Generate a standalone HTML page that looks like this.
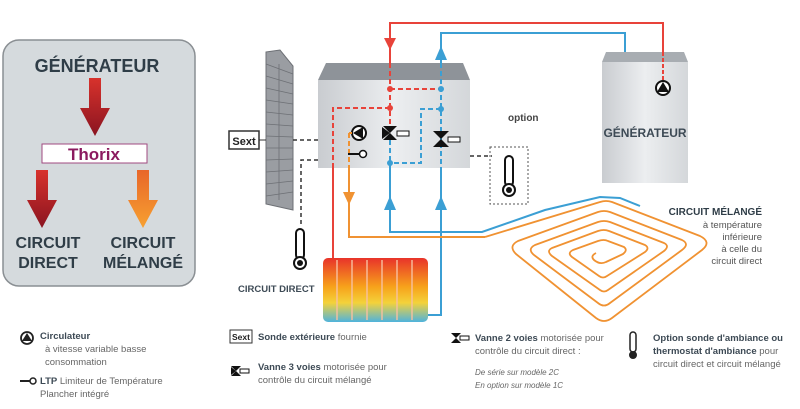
<!DOCTYPE html>
<html><head><meta charset="utf-8"><style>
html,body{margin:0;padding:0;background:#fff;width:800px;height:409px;overflow:hidden}
svg{display:block;font-family:"Liberation Sans",sans-serif}
</style></head><body>
<svg width="800" height="409" viewBox="0 0 800 409" xmlns="http://www.w3.org/2000/svg">
<defs>
<linearGradient id="ra" x1="0" y1="0" x2="0" y2="1"><stop offset="0" stop-color="#e8332a"/><stop offset="0.45" stop-color="#f7a21b"/><stop offset="0.7" stop-color="#f4d23a"/><stop offset="1" stop-color="#4fb3dc"/></linearGradient>
<linearGradient id="gb" x1="0" y1="0" x2="1" y2="0"><stop offset="0" stop-color="#c9ccd0"/><stop offset="0.5" stop-color="#eceef0"/><stop offset="1" stop-color="#d4d7da"/></linearGradient>
<linearGradient id="ar" x1="0" y1="0" x2="0" y2="1"><stop offset="0" stop-color="#d8322c"/><stop offset="1" stop-color="#8a1420"/></linearGradient>
<linearGradient id="ao" x1="0" y1="0" x2="0" y2="1"><stop offset="0" stop-color="#e8662a"/><stop offset="1" stop-color="#f7a030"/></linearGradient>
</defs>
<!-- left panel -->
<rect x="3" y="40" width="192" height="246" rx="16" fill="#d5dadd" stroke="#8a8f93" stroke-width="1.5"/>
<text x="97" y="72" font-size="18" font-weight="bold" fill="#2f3d47" text-anchor="middle">GÉNÉRATEUR</text>
<polygon points="89,78 101,78 101,108 110,108 95,136 80,108 89,108" fill="url(#ar)"/>
<rect x="42" y="144" width="105" height="19" fill="#fff" stroke="#a04a80"/>
<text x="94" y="160" font-size="17" font-weight="bold" fill="#8b1a5f" text-anchor="middle">Thorix</text>
<polygon points="36,170 48,170 48,200 57,200 42,228 27,200 36,200" fill="url(#ar)"/>
<polygon points="137,170 149,170 149,200 158,200 143,228 128,200 137,200" fill="url(#ao)"/>
<text x="48" y="248" font-size="16" font-weight="bold" fill="#2f3d47" text-anchor="middle">CIRCUIT</text>
<text x="48" y="268" font-size="16" font-weight="bold" fill="#2f3d47" text-anchor="middle">DIRECT</text>
<text x="143" y="248" font-size="16" font-weight="bold" fill="#2f3d47" text-anchor="middle">CIRCUIT</text>
<text x="143" y="268" font-size="16" font-weight="bold" fill="#2f3d47" text-anchor="middle">MÉLANGÉ</text>

<!-- wall -->
<polygon points="266,52 280,50 293,66 293,210 266,204" fill="#9a9da2" stroke="#6d7075"/>
<g stroke="#6d7075" stroke-width="0.8">
<line x1="266" y1="64" x2="293" y2="74"/><line x1="266" y1="76" x2="293" y2="84"/><line x1="266" y1="88" x2="293" y2="94"/><line x1="266" y1="100" x2="293" y2="104"/><line x1="266" y1="112" x2="293" y2="115"/><line x1="266" y1="124" x2="293" y2="126"/><line x1="266" y1="136" x2="293" y2="137"/><line x1="266" y1="148" x2="293" y2="148"/><line x1="266" y1="160" x2="293" y2="159"/><line x1="266" y1="172" x2="293" y2="170"/><line x1="266" y1="184" x2="293" y2="181"/><line x1="266" y1="196" x2="293" y2="192"/>
<line x1="279" y1="64" x2="279" y2="200"/>
</g>
<rect x="229" y="131" width="30" height="18" fill="#fff" stroke="#333" stroke-width="1.5"/>
<text x="244" y="145" font-size="11" font-weight="bold" fill="#222" text-anchor="middle">Sext</text>
<line x1="259" y1="140" x2="266" y2="140" stroke="#333"/>
<g stroke="#333" stroke-width="1.5" stroke-dasharray="4,3" fill="none">
<line x1="293" y1="140" x2="318" y2="140"/>
<polyline points="318,160 301,160 301,225"/>
<polyline points="470,156 492,156"/>
</g>
<!-- pipes top -->
<polyline points="390,63 390,23 663,23 663,52" fill="none" stroke="#e8433a" stroke-width="2"/>
<polyline points="441,63 441,33 625,33 625,52" fill="none" stroke="#3b9fd4" stroke-width="2"/>
<!-- generator -->
<polygon points="606,52 684,52 688,62 602,62" fill="#a8adb2"/>
<rect x="602" y="62" width="86" height="121" fill="url(#gb)"/>
<line x1="663" y1="52" x2="663" y2="82" stroke="#e8433a" stroke-width="2" stroke-dasharray="4,2"/>
<circle cx="663" cy="88" r="7" fill="#fff" stroke="#111" stroke-width="2"/><polygon points="663,82 669,92 657,92" fill="#111"/>
<text x="645" y="137" font-size="12" font-weight="bold" fill="#3d4a55" text-anchor="middle">GÉNÉRATEUR</text>
<!-- thorix box -->
<polygon points="326,63 463,63 470,80 318,80" fill="#8e9399"/>
<rect x="318" y="80" width="152" height="88" fill="url(#gb)"/>
<!-- internal dashed -->
<g fill="none" stroke-width="2" stroke-dasharray="5,3">
<line x1="390" y1="63" x2="390" y2="128" stroke="#e8433a"/>
<line x1="390" y1="89" x2="441" y2="89" stroke="#e8433a"/>
<polyline points="390,108 333,108 333,168" stroke="#e8433a"/>
<line x1="441" y1="63" x2="441" y2="168" stroke="#3b9fd4"/>
<polyline points="441,109 421,109 421,163 390,163" stroke="#3b9fd4"/>
<line x1="390" y1="140" x2="390" y2="168" stroke="#3b9fd4"/>
<polyline points="349,133 349,168" stroke="#f09232"/>
</g>
<circle cx="390" cy="89" r="3" fill="#e8433a"/><circle cx="390" cy="108" r="3" fill="#e8433a"/><circle cx="441" cy="89" r="3" fill="#3b9fd4"/><circle cx="441" cy="109" r="3" fill="#3b9fd4"/><circle cx="390" cy="163" r="3" fill="#3b9fd4"/>
<!-- pump -->
<circle cx="359" cy="133" r="7" fill="#fff" stroke="#111" stroke-width="2"/><polygon points="353,133 363,127 363,139" fill="#111"/>
<line x1="349" y1="133" x2="352" y2="133" stroke="#f09232" stroke-width="2"/>
<!-- LTP -->
<line x1="348" y1="154" x2="359" y2="154" stroke="#111" stroke-width="2"/><circle cx="363" cy="154" r="3.5" fill="#fff" stroke="#111" stroke-width="1.5"/>
<!-- 3 way valve -->
<polygon points="383,126 397,126 390,133" fill="#111"/><polygon points="383,140 397,140 390,133" fill="#111"/><polygon points="382,127 382,139 390,133" fill="#111"/>
<rect x="397" y="131" width="12" height="5" fill="#fff" stroke="#111"/>
<!-- 2 way valve -->
<polygon points="433,131 449,131 441,139" fill="#111"/><polygon points="433,147 449,147 441,139" fill="#111"/>
<rect x="448" y="137" width="12" height="5" fill="#fff" stroke="#111"/>
<!-- lower pipes -->
<line x1="333" y1="168" x2="333" y2="258" stroke="#e8433a" stroke-width="2"/>
<polyline points="441,168 441,315 428,315" fill="none" stroke="#3b9fd4" stroke-width="2"/>
<polyline points="390,168 390,232 482,232 545,210 600,197 620,198 640,206" fill="none" stroke="#3b9fd4" stroke-width="2"/>
<polyline points="349,168 349,237 485,237" fill="none" stroke="#f09232" stroke-width="2"/>
<!-- arrows -->
<polygon points="384,38 396,38 390,50" fill="#e8433a"/>
<polygon points="435,60 447,60 441,46" fill="#3b9fd4"/>
<polygon points="384,210 396,210 390,196" fill="#3b9fd4"/>
<polygon points="435,210 447,210 441,196" fill="#3b9fd4"/>
<polygon points="343,192 355,192 349,205" fill="#f09232"/>
<!-- spiral -->
<g fill="none" stroke="#f09232" stroke-width="1.8" stroke-linejoin="round">
<path d="M485,237 L600,202 Q606,200 612,202 L700,236 Q712,242 702,250 L612,318 Q604,324 596,318 L516,254 Q508,246 518,241 L598,212 Q604,210 610,212 L682,240 Q690,244 682,250 L610,303 Q604,308 598,303 L534,255 Q527,249 535,245 L598,222 Q604,220 610,222 L664,243 Q670,246 664,251 L608,290 Q604,293 600,290 L552,256 Q546,251 552,248 L598,231 Q604,229 609,231 L645,245 Q650,248 645,252 L607,276 Q603,279 599,276 L572,257 Q567,253 573,250 L598,241 Q604,239 608,241 L624,247 Q628,250 623,254 L606,262 Q600,265 594,260 Q590,256 596,253"/>
</g>
<text x="762" y="215" font-size="10" font-weight="bold" fill="#2f3d47" text-anchor="end">CIRCUIT MÉLANGÉ</text>
<g font-size="9.5" fill="#555" text-anchor="end">
<text x="762" y="228">à température</text><text x="762" y="240">inférieure</text><text x="762" y="252">à celle du</text><text x="762" y="264">circuit direct</text>
</g>
<text x="508" y="121" font-size="10" font-weight="bold" fill="#444">option</text>
<rect x="490" y="147" width="38" height="57" fill="none" stroke="#555" stroke-dasharray="2,2"/>
<!-- thermometers -->
<g stroke="#111" stroke-width="2" fill="#fff">
<rect x="505" y="156" width="8" height="30" rx="4"/><circle cx="509" cy="190" r="6"/>
<rect x="296" y="229" width="8" height="30" rx="4"/><circle cx="300" cy="263" r="6"/>
</g>
<circle cx="509" cy="190" r="3" fill="#111"/><circle cx="300" cy="263" r="3" fill="#111"/>
<text x="238" y="292" font-size="9.5" font-weight="bold" fill="#3d4a55">CIRCUIT DIRECT</text>
<!-- radiator -->
<rect x="323" y="258" width="105" height="64" rx="5" fill="url(#ra)"/>
<g stroke="#f8c0a0" stroke-width="2" opacity="0.7">
<line x1="337" y1="260" x2="337" y2="320"/><line x1="352" y1="260" x2="352" y2="320"/><line x1="367" y1="260" x2="367" y2="320"/><line x1="382" y1="260" x2="382" y2="320"/><line x1="397" y1="260" x2="397" y2="320"/><line x1="412" y1="260" x2="412" y2="320"/>
</g>
<!-- legend -->
<circle cx="27" cy="338" r="6" fill="#fff" stroke="#222" stroke-width="1.8"/><polygon points="27,333 32,341 22,341" fill="#222"/>
<g font-size="9.5" fill="#666">
<text x="40" y="339" font-weight="bold" fill="#3d4a55">Circulateur</text>
<text x="45" y="352">à vitesse variable basse</text>
<text x="45" y="365">consommation</text>
<line x1="20" y1="381" x2="30" y2="381" stroke="#222" stroke-width="2"/><circle cx="33" cy="381" r="3" fill="#fff" stroke="#222" stroke-width="1.5"/>
<text x="40" y="384"><tspan font-weight="bold" fill="#3d4a55">LTP</tspan> Limiteur de Température</text>
<text x="40" y="397">Plancher intégré</text>
<rect x="230" y="330" width="22" height="13" fill="#fff" stroke="#333"/>
<text x="241" y="340" font-size="8.5" font-weight="bold" fill="#222" text-anchor="middle">Sext</text>
<text x="258" y="340"><tspan font-weight="bold" fill="#3d4a55">Sonde extérieure</tspan> fournie</text>
<polygon points="231,366 241,366 236,371" fill="#111"/><polygon points="231,376 241,376 236,371" fill="#111"/><polygon points="231,367 231,375 236,371" fill="#111"/>
<rect x="240" y="369" width="9" height="4" fill="#fff" stroke="#111"/>
<text x="258" y="370"><tspan font-weight="bold" fill="#3d4a55">Vanne 3 voies</tspan> motorisée pour</text>
<text x="258" y="383">contrôle du circuit mélangé</text>
<polygon points="451,333 461,333 456,338" fill="#111"/><polygon points="451,343 461,343 456,338" fill="#111"/>
<rect x="460" y="336" width="9" height="4" fill="#fff" stroke="#111"/>
<text x="475" y="341"><tspan font-weight="bold" fill="#3d4a55">Vanne 2 voies</tspan> motorisée pour</text>
<text x="475" y="354">contrôle du circuit direct :</text>
<text x="475" y="375" font-size="8" font-style="italic">De série sur modèle 2C</text>
<text x="475" y="388" font-size="8" font-style="italic">En option sur modèle 1C</text>
<rect x="630" y="332" width="6" height="20" rx="3" fill="#fff" stroke="#222" stroke-width="1.5"/><circle cx="633" cy="355" r="4" fill="#222"/>
<text x="653" y="341" font-weight="bold" fill="#3d4a55">Option sonde d'ambiance ou</text>
<text x="653" y="354"><tspan font-weight="bold" fill="#3d4a55">thermostat d'ambiance</tspan> pour</text>
<text x="653" y="367">circuit direct et circuit mélangé</text>
</g>
</svg>
</body></html>
